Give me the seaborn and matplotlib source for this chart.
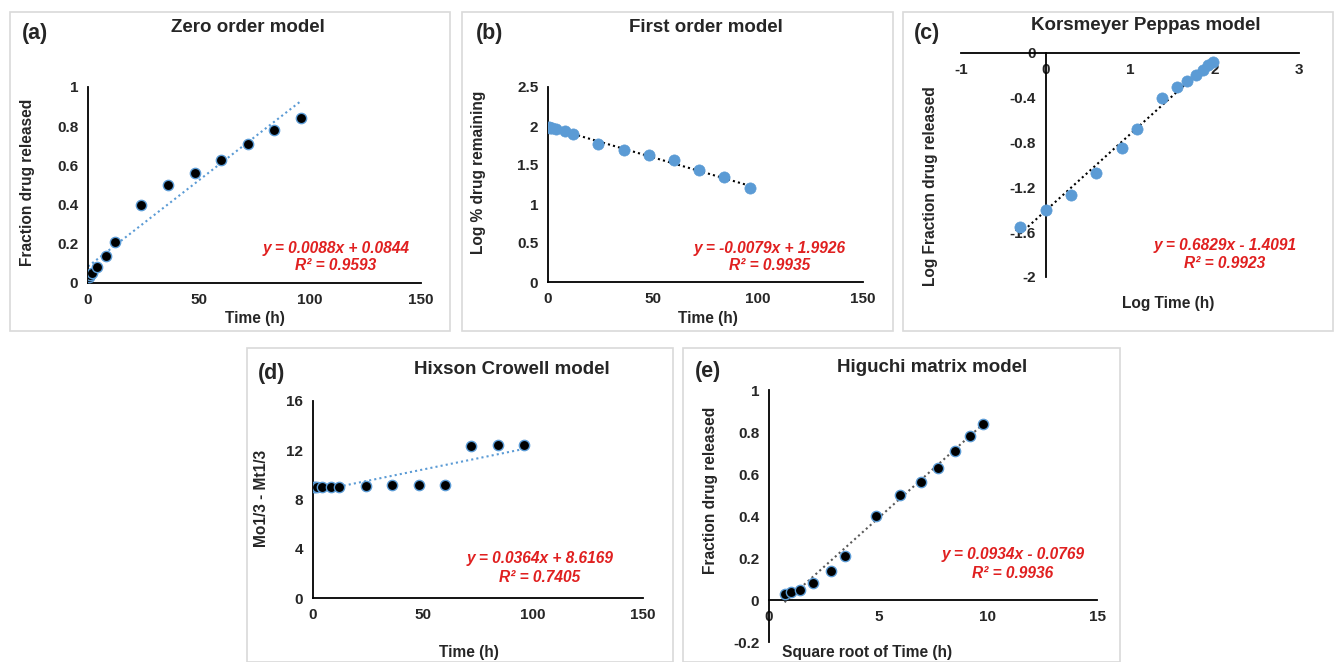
import numpy as np
import pandas as pd
import seaborn as sns
import matplotlib.pyplot as plt
from matplotlib.patches import Rectangle

sns.set_style("white")
plt.rcParams['font.family'] = ['Liberation Sans', 'DejaVu Sans']
plt.rcParams['font.weight'] = 'bold'

# data
time_h = [0.5, 1, 2, 4, 8, 12, 24, 36, 48, 60, 72, 84, 96]
frac_released = [0.03, 0.04, 0.05, 0.08, 0.14, 0.21, 0.40, 0.50, 0.56, 0.63, 0.71, 0.78, 0.84]
log_pct_remaining = [1.99, 1.98, 1.97, 1.96, 1.93, 1.90, 1.77, 1.69, 1.63, 1.56, 1.44, 1.34, 1.20]
log_time = [-0.30, 0.0, 0.30, 0.60, 0.90, 1.08, 1.38, 1.56, 1.68, 1.78, 1.86, 1.92, 1.98]
log_frac = [-1.55, -1.40, -1.27, -1.07, -0.85, -0.68, -0.40, -0.30, -0.25, -0.20, -0.15, -0.11, -0.08]
hixson = [9.0, 9.0, 9.0, 9.02, 9.05, 9.05, 9.1, 9.15, 9.2, 9.2, 12.35, 12.4, 12.45]
sqrt_time = [0.71, 1.0, 1.41, 2.0, 2.83, 3.46, 4.90, 6.0, 6.93, 7.75, 8.49, 9.17, 9.80]

# fitted lines shown in the chart (slope, intercept, R²)
fits = {
    "a": (0.0088, 0.0844, "0.9593"),
    "b": (-0.0079, 1.9926, "0.9935"),
    "c": (0.6829, -1.4091, "0.9923"),
    "d": (0.0364, 8.6169, "0.7405"),
    "e": (0.0934, -0.0769, "0.9936"),
}

BLUE = "#5B9BD5"
RED = "#E02020"
W, H = 1334, 662
LAB = 11.2
TITLE = 13.5
LETTER = 15.5

fig = plt.figure(figsize=(W / 100, H / 100), dpi=100)


def px_axes(x0, x1, ytop, ybot):
    return fig.add_axes([x0 / W, 1 - ybot / H, (x1 - x0) / W, (ybot - ytop) / H])


def frame(x0, y0, x1, y1):
    fig.patches.append(Rectangle((x0 / W, 1 - y1 / H), (x1 - x0) / W, (y1 - y0) / H,
                                 transform=fig.transFigure, fill=False,
                                 edgecolor="#d9d9d9", lw=1.2))


def ftext(x, y, s, **kw):
    fig.text(x / W, 1 - y / H, s, ha="center", va="center", **kw)


def style(ax):
    sns.despine(ax=ax)
    for sp in ["left", "bottom"]:
        ax.spines[sp].set_color("black")
        ax.spines[sp].set_linewidth(1.3)
    ax.tick_params(length=0, labelsize=11, pad=7)
    for lb in ax.get_xticklabels() + ax.get_yticklabels():
        lb.set_fontweight("bold")
    ax.set_xlabel("")
    ax.set_ylabel("")


def points(ax, x, y, dark):
    df = pd.DataFrame({"x": x, "y": y})
    if dark:
        sns.scatterplot(data=df, x="x", y="y", ax=ax, s=55, color="black",
                        edgecolor=BLUE, linewidth=1.0, zorder=3)
    else:
        sns.scatterplot(data=df, x="x", y="y", ax=ax, s=65, color=BLUE,
                        edgecolor=BLUE, linewidth=0.5, zorder=3)


def trend(ax, x, key, color, x_start=None):
    m, b, _ = fits[key]
    xs = np.array([min(x) if x_start is None else x_start, max(x)])
    ax.plot(xs, m * xs + b, linestyle=(0, (1, 1.5)), color=color, lw=1.5, zorder=2)


def equation(x, y, key):
    m, b, r2 = fits[key]
    sign = "+" if b >= 0 else "-"
    ftext(x, y, f"y = {m:.4f}x {sign} {abs(b):.4f}", color=RED, fontsize=LAB,
          fontweight="bold", style="italic")
    ftext(x, y + 18, f"R² = {r2}", color=RED, fontsize=LAB,
          fontweight="bold", style="italic")


def labels(title, tx, ty, letter, lx, ly, xl, xlx, xly, yl, ylx, yly, eqx, eqy, key):
    ftext(tx, ty, title, fontsize=TITLE, fontweight="bold")
    ftext(lx, ly, letter, fontsize=LETTER, fontweight="bold")
    ftext(xlx, xly, xl, fontsize=LAB, fontweight="bold")
    ftext(ylx, yly, yl, fontsize=LAB, fontweight="bold", rotation=90)
    equation(eqx, eqy, key)


# panel frames
frame(10, 12, 450, 331)
frame(462, 12, 893, 331)
frame(903, 12, 1333, 331)
frame(247, 348, 673, 662)
frame(683, 348, 1120, 662)

# (a) zero order
ax = px_axes(88, 421, 87, 283)
trend(ax, time_h, "a", BLUE, x_start=0)
points(ax, time_h, frac_released, dark=True)
ax.set_xlim(0, 150)
ax.set_ylim(0, 1)
ax.set_xticks([0, 50, 100, 150])
ax.set_yticks([0, 0.2, 0.4, 0.6, 0.8, 1])
ax.set_yticklabels(["0", "0.2", "0.4", "0.6", "0.8", "1"])
style(ax)
labels("Zero order model", 248, 28, "(a)", 35, 33, "Time (h)", 255, 318,
       "Fraction drug released", 28, 182, 336, 248, "a")

# (b) first order
ax = px_axes(548, 863, 87, 282)
trend(ax, time_h, "b", "black", x_start=0)
points(ax, time_h, log_pct_remaining, dark=False)
ax.set_xlim(0, 150)
ax.set_ylim(0, 2.5)
ax.set_xticks([0, 50, 100, 150])
ax.set_yticks([0, 0.5, 1, 1.5, 2, 2.5])
ax.set_yticklabels(["0", "0.5", "1", "1.5", "2", "2.5"])
style(ax)
labels("First order model", 706, 28, "(b)", 490, 34, "Time (h)", 708, 318,
       "Log % drug remaining", 478, 172, 770, 248, "b")

# (c) Korsmeyer Peppas
ax = px_axes(961, 1299, 53, 277)
trend(ax, log_time, "c", "black")
points(ax, log_time, log_frac, dark=False)
ax.set_xlim(-1, 3)
ax.set_ylim(-2, 0)
ax.set_xticks([-1, 0, 1, 2, 3])
ax.set_xticklabels(["-1", "0", "1", "2", "3"])
ax.set_yticks([-2, -1.6, -1.2, -0.8, -0.4, 0])
ax.set_yticklabels(["-2", "-1.6", "-1.2", "-0.8", "-0.4", "0"])
style(ax)
ax.spines["left"].set_position(("data", 0))
ax.spines["bottom"].set_position(("data", 0))
labels("Korsmeyer Peppas model", 1146, 26, "(c)", 927, 33, "Log Time (h)", 1168, 304,
       "Log Fraction drug released", 930, 186, 1225, 245, "c")

# (d) Hixson Crowell
ax = px_axes(313, 643, 401, 598)
trend(ax, time_h, "d", BLUE, x_start=0)
points(ax, time_h, hixson, dark=True)
ax.set_xlim(0, 150)
ax.set_ylim(0, 16)
ax.set_xticks([0, 50, 100, 150])
ax.set_yticks([0, 4, 8, 12, 16])
style(ax)
labels("Hixson Crowell model", 512, 370, "(d)", 272, 373, "Time (h)", 469, 652,
       "Mo1/3 - Mt1/3", 262, 498, 540, 559, "d")

# (e) Higuchi
ax = px_axes(769, 1097, 390, 642)
trend(ax, sqrt_time, "e", "#595959")
points(ax, sqrt_time, frac_released, dark=True)
ax.set_xlim(0, 15)
ax.set_ylim(-0.2, 1)
ax.set_xticks([0, 5, 10, 15])
ax.set_yticks([-0.2, 0, 0.2, 0.4, 0.6, 0.8, 1])
ax.set_yticklabels(["-0.2", "0", "0.2", "0.4", "0.6", "0.8", "1"])
style(ax)
ax.spines["bottom"].set_position(("data", 0))
labels("Higuchi matrix model", 932, 368, "(e)", 708, 372, "Square root of Time (h)", 867, 653,
       "Fraction drug released", 711, 490, 1013, 555, "e")

fig.savefig("out.png", dpi=100)
